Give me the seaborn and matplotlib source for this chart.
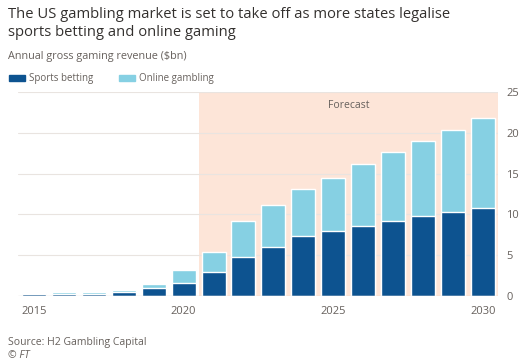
import matplotlib
matplotlib.use("Agg")
import matplotlib.pyplot as plt
import matplotlib.patches as mpatches
import seaborn as sns
import pandas as pd

# Valores ($bn)
years = list(range(2015, 2031))
sports_betting = [0.25, 0.25, 0.3, 0.45, 0.95, 1.6, 2.9, 4.8, 6.0, 7.4, 8.0, 8.6, 9.2, 9.8, 10.3, 10.8]
online_gambling = [0.15, 0.2, 0.2, 0.25, 0.55, 1.6, 2.5, 4.4, 5.1, 5.7, 6.4, 7.6, 8.4, 9.2, 10.1, 11.0]
year_labels = ["2015", "2020", "2025", "2030"]
y_ticks = [0, 5, 10, 15, 20, 25]

df = pd.DataFrame({"year": years, "sports": sports_betting, "online": online_gambling})
df["total"] = df["sports"] + df["online"]

dark_blue = "#0d5390"
light_blue = "#86d0e3"
shade = "#fde5d8"
grey_txt = "#66605c"

sns.set_style("white")
plt.rcParams["font.family"] = ["Open Sans", "DejaVu Sans"]

fig = plt.figure(figsize=(5.26, 3.64), dpi=100)
ax = fig.add_axes([18 / 526, 1 - 296 / 364, (498 - 18) / 526, (296 - 92) / 364])

sns.barplot(data=df, x="year", y="total", color=light_blue, width=0.8,
            saturation=1, ax=ax, zorder=3)
sns.barplot(data=df, x="year", y="sports", color=dark_blue, width=0.8,
            saturation=1, ax=ax, zorder=4)

n = len(years)
ax.set_xlim(-0.53, n - 0.5)
ax.set_ylim(0, 25)
ax.axvspan(5.5, n - 0.5, color=shade, zorder=1, lw=0)
ax.text((5.5 + n - 0.5) / 2, 23.3, "Forecast", ha="center", va="center",
        fontsize=7.5, color=grey_txt, zorder=5)

for y in y_ticks[1:]:
    ax.axhline(y, color="#e9e4e0", lw=0.8, zorder=2)
ax.axhline(0, color="#cfcac6", lw=0.9, zorder=5)

ax.yaxis.tick_right()
ax.set_yticks(y_ticks)
ax.set_yticklabels([str(v) for v in y_ticks], fontsize=8, color=grey_txt)
ax.tick_params(axis="y", length=0, pad=6)

ax.set_xticks(range(n))
ax.set_xticklabels([str(yr) if str(yr) in year_labels else "" for yr in years],
                   fontsize=8, color=grey_txt)
ax.tick_params(axis="x", length=4, color="#cfcac6", width=0.8, pad=3)
ax.set_xlabel("")
ax.set_ylabel("")
for s in ax.spines.values():
    s.set_visible(False)

fig.text(8 / 526, 1 - 7 / 364,
         "The US gambling market is set to take off as more states legalise\nsports betting and online gaming",
         ha="left", va="top", fontsize=10.6, color="#33302e", linespacing=1.3)
fig.text(8 / 526, 1 - 57 / 364, "Annual gross gaming revenue ($bn)",
         ha="left", va="center", fontsize=7.8, color=grey_txt)

handles = [mpatches.Patch(color=dark_blue, label="Sports betting"),
           mpatches.Patch(color=light_blue, label="Online gambling")]
fig.legend(handles=handles, loc="center left", bbox_to_anchor=(0 / 526, 1 - 79 / 364),
           ncol=2, frameon=False, fontsize=7, handlelength=1.7, handleheight=0.6,
           columnspacing=2.6, handletextpad=0.4, labelcolor=grey_txt)

fig.text(8 / 526, 1 - 342 / 364, "Source: H2 Gambling Capital",
         ha="left", va="center", fontsize=7.5, color=grey_txt)
fig.text(8 / 526, 1 - 355 / 364, "© FT", ha="left", va="center",
         fontsize=7.5, color=grey_txt, style="italic")

fig.savefig("out.png", dpi=100)
plt.close(fig)
